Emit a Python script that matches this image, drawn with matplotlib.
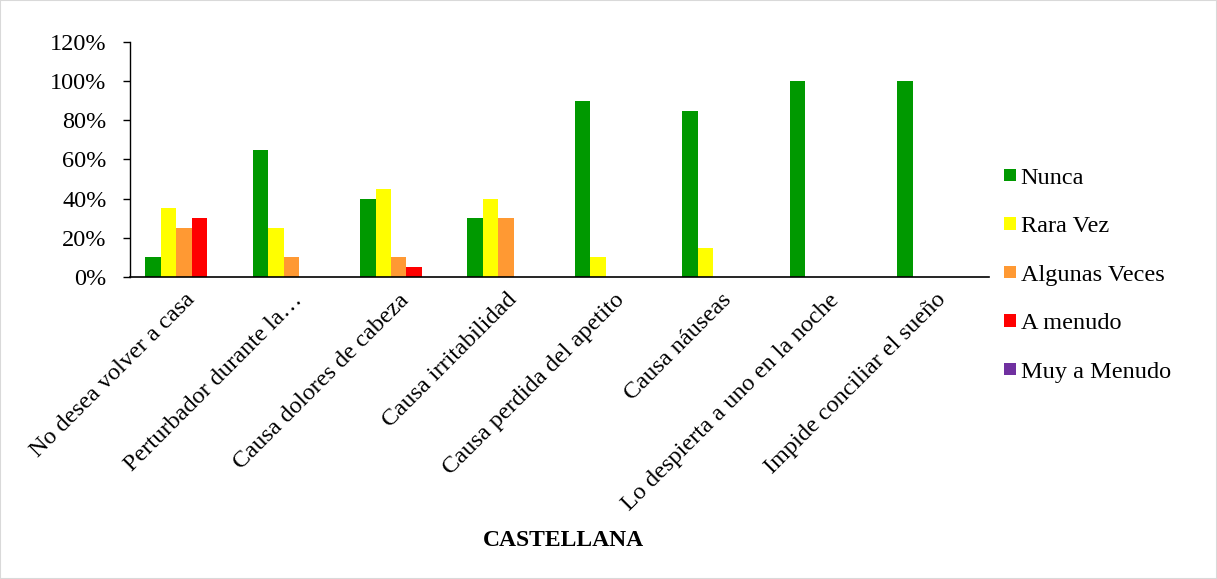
import numpy as np
import matplotlib.pyplot as plt
from matplotlib.ticker import PercentFormatter

categories = ["No desea volver a casa", "Perturbador durante la…", "Causa dolores de cabeza",
              "Causa irritabilidad", "Causa perdida del apetito", "Causa náuseas",
              "Lo despierta a uno en la noche", "Impide conciliar el sueño"]
series = ["Nunca", "Rara Vez", "Algunas Veces", "A menudo", "Muy a Menudo"]
nunca = [10, 65, 40, 30, 90, 85, 100, 100]
rara_vez = [35, 25, 45, 40, 10, 15, 0, 0]
algunas = [25, 10, 10, 30, 0, 0, 0, 0]
a_menudo = [30, 0, 5, 0, 0, 0, 0, 0]
muy_a_menudo = [0, 0, 0, 0, 0, 0, 0, 0]
colors = ["#009900", "#FFFF00", "#FF9933", "#FF0000", "#7030A0"]

plt.rcParams['font.family'] = ['Liberation Serif', 'DejaVu Serif']
fs = 17.5

fig = plt.figure(figsize=(12.17, 5.79), dpi=100)
fig.patches.append(plt.Rectangle((0, 0), 1, 1, transform=fig.transFigure,
                                 fill=False, edgecolor='#d9d9d9', lw=1.5))
ax = fig.add_axes([0.107, 0.5216, 0.706, 0.4059])

x = np.arange(len(categories))
w = 0.144
for i, (name, vals) in enumerate(zip(series, [nunca, rara_vez, algunas, a_menudo, muy_a_menudo])):
    ax.bar(x + (i - 2) * w, vals, width=w, color=colors[i], label=name)

ax.set_xlim(-0.5, len(categories) - 0.5)
ax.set_ylim(0, 120)
ax.set_yticks(range(0, 121, 20))
ax.yaxis.set_major_formatter(PercentFormatter(decimals=0))
ax.set_xticks(x)
ax.set_xticklabels(categories, rotation=45, ha='right', rotation_mode='anchor', fontsize=fs)
ax.tick_params(axis='x', length=0, pad=9)
ax.tick_params(axis='y', labelsize=fs, length=5, width=1, pad=12)
for s in ['top', 'right']:
    ax.spines[s].set_visible(False)
ax.spines['left'].set_linewidth(1)
ax.spines['bottom'].set_linewidth(1.2)

fig.text(563 / 1217, 1 - 540 / 579, "CASTELLANA", fontweight='bold', fontsize=17,
         ha='center', va='center')

ax.legend(loc='center left', bbox_to_anchor=(0.991, 0.008), frameon=False, fontsize=fs,
          handlelength=0.5, handleheight=0.4, handletextpad=0.2, labelspacing=1.13)

plt.savefig('out.png')
